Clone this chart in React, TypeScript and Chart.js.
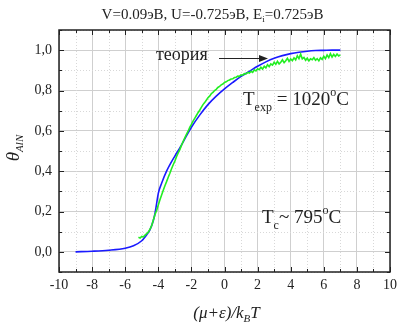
import React, { useEffect, useRef } from "react";
import { Chart, registerables } from "chart.js";

Chart.register(...registerables);

const titleText = "V=0.09эВ, U=-0.725эВ, E";
const xTickValues = [-10, -8, -6, -4, -2, 0, 2, 4, 6, 8, 10];
const yTickValues = [0, 0.2, 0.4, 0.6, 0.8, 1.0];

const theoryX = [-9, -8, -7, -6, -5.5, -5, -4.7, -4.5, -4.3, -4.2, -4.1, -4.0, -3.8, -3.5, -3.0, -2.7, -2.3, -2.0, -1.5, -1.0, -0.5, 0, 0.5, 1, 1.5, 2, 2.5, 3, 3.5, 4, 4.5, 5, 5.5, 6, 6.5, 7];
const theoryY = [0, 0.003, 0.008, 0.018, 0.03, 0.055, 0.085, 0.11, 0.155, 0.19, 0.24, 0.29, 0.34, 0.4, 0.475, 0.515, 0.575, 0.618, 0.678, 0.73, 0.772, 0.808, 0.84, 0.87, 0.895, 0.92, 0.942, 0.96, 0.973, 0.983, 0.99, 0.995, 0.998, 0.999, 1.0, 1.0];

const expX = [-5.2, -5.1, -5.0, -4.9, -4.8, -4.7, -4.6, -4.5, -4.4, -4.3, -4.2, -4.1, -4.0, -3.9, -3.8, -3.7, -3.6, -3.5, -3.4, -3.3, -3.2, -3.1, -3.0, -2.9, -2.8, -2.7, -2.6, -2.5, -2.4, -2.3, -2.2, -2.1, -2.0, -1.9, -1.8, -1.7, -1.6, -1.5, -1.4, -1.3, -1.2, -1.1, -1.0, -0.9, -0.8, -0.7, -0.6, -0.5, -0.4, -0.3, -0.2, -0.1, 0.0, 0.1, 0.2, 0.3, 0.4, 0.5, 0.6, 0.7, 0.8, 0.9, 1.0, 1.1, 1.2, 1.3, 1.4, 1.5, 1.6, 1.7, 1.8, 1.9, 2.0, 2.1, 2.2, 2.3, 2.4, 2.5, 2.6, 2.7, 2.8, 2.9, 3.0, 3.1, 3.2, 3.3, 3.4, 3.5, 3.6, 3.7, 3.8, 3.9, 4.0, 4.1, 4.2, 4.3, 4.4, 4.5, 4.6, 4.7, 4.8, 4.9, 5.0, 5.1, 5.2, 5.3, 5.4, 5.5, 5.6, 5.7, 5.8, 5.9, 6.0, 6.1, 6.2, 6.3, 6.4, 6.5, 6.6, 6.7, 6.8, 6.9, 7.0];
const expY = [0.072, 0.068, 0.076, 0.074, 0.083, 0.09, 0.098, 0.112, 0.13, 0.158, 0.185, 0.205, 0.232, 0.258, 0.282, 0.305, 0.328, 0.348, 0.37, 0.39, 0.412, 0.432, 0.45, 0.472, 0.49, 0.507, 0.528, 0.547, 0.565, 0.582, 0.598, 0.617, 0.632, 0.648, 0.662, 0.676, 0.69, 0.702, 0.716, 0.73, 0.74, 0.752, 0.764, 0.772, 0.784, 0.79, 0.8, 0.806, 0.815, 0.82, 0.828, 0.832, 0.84, 0.843, 0.849, 0.852, 0.857, 0.858, 0.864, 0.866, 0.871, 0.87, 0.878, 0.876, 0.884, 0.882, 0.89, 0.887, 0.895, 0.89, 0.902, 0.897, 0.908, 0.903, 0.915, 0.906, 0.92, 0.912, 0.928, 0.918, 0.932, 0.926, 0.94, 0.93, 0.945, 0.932, 0.94, 0.952, 0.938, 0.948, 0.96, 0.944, 0.956, 0.948, 0.962, 0.952, 0.972, 0.958, 0.98, 0.957, 0.964, 0.95, 0.96, 0.947, 0.957, 0.953, 0.963, 0.95, 0.958, 0.947, 0.962, 0.954, 0.97, 0.958, 0.976, 0.963, 0.983, 0.966, 0.979, 0.969, 0.981, 0.971, 0.977];

const SERIF = '"Liberation Serif", "Times New Roman", serif';

type Seg = { t: string; size: number; dy?: number; italic?: boolean };

function drawSegs(ctx: CanvasRenderingContext2D, segs: Seg[], x: number, y: number, align: "left" | "center") {
  const font = (s: Seg) => `${s.italic ? "italic " : ""}${s.size}px ${SERIF}`;
  let total = 0;
  for (const s of segs) {
    ctx.font = font(s);
    total += ctx.measureText(s.t).width;
  }
  let cx = align === "center" ? x - total / 2 : x;
  ctx.textAlign = "left";
  ctx.textBaseline = "alphabetic";
  for (const s of segs) {
    ctx.font = font(s);
    ctx.fillText(s.t, cx, y + (s.dy || 0));
    cx += ctx.measureText(s.t).width;
  }
}

const decorPlugin = {
  id: "decor",
  beforeDatasetsDraw(chart: any) {
    const { ctx, chartArea: a, scales } = chart;
    const xs = scales.x, ys = scales.y;
    ctx.save();
    ctx.strokeStyle = "#d8d8d8";
    ctx.lineWidth = 1;
    ctx.setLineDash([1, 2]);
    for (let v = -9; v <= 9; v += 2) {
      const px = Math.round(xs.getPixelForValue(v)) + 0.5;
      ctx.beginPath(); ctx.moveTo(px, a.top); ctx.lineTo(px, a.bottom); ctx.stroke();
    }
    for (const v of [-0.1, 0.1, 0.3, 0.5, 0.7, 0.9, 1.1]) {
      const py = Math.round(ys.getPixelForValue(v)) + 0.5;
      ctx.beginPath(); ctx.moveTo(a.left, py); ctx.lineTo(a.right, py); ctx.stroke();
    }
    ctx.restore();
  },
  afterDraw(chart: any) {
    const { ctx, chartArea: a, scales } = chart;
    const xs = scales.x, ys = scales.y;
    ctx.save();
    ctx.strokeStyle = "#222";
    ctx.lineWidth = 1;
    for (let v = -10; v <= 10; v += 1) {
      const px = Math.round(xs.getPixelForValue(v)) + 0.5;
      const len = v % 2 === 0 ? 5 : 3;
      ctx.beginPath();
      ctx.moveTo(px, a.bottom); ctx.lineTo(px, a.bottom - len);
      ctx.moveTo(px, a.top); ctx.lineTo(px, a.top + len);
      ctx.stroke();
    }
    for (let i = -1; i <= 11; i++) {
      const v = i / 10;
      const py = Math.round(ys.getPixelForValue(v)) + 0.5;
      const len = i % 2 === 0 ? 5 : 3;
      ctx.beginPath();
      ctx.moveTo(a.left, py); ctx.lineTo(a.left + len, py);
      ctx.moveTo(a.right, py); ctx.lineTo(a.right - len, py);
      ctx.stroke();
    }
    ctx.lineWidth = 1.5;
    ctx.strokeRect(a.left, a.top, a.right - a.left, a.bottom - a.top);

    ctx.fillStyle = "#222";
    ctx.font = `14px ${SERIF}`;
    ctx.textAlign = "center";
    ctx.textBaseline = "middle";
    for (const v of xTickValues) {
      ctx.fillText(String(v), xs.getPixelForValue(v), a.bottom + 13);
    }
    ctx.textAlign = "right";
    for (const v of yTickValues) {
      ctx.fillText(v.toFixed(1).replace(".", ","), a.left - 7, ys.getPixelForValue(v));
    }

    drawSegs(ctx, [
      { t: titleText, size: 15 },
      { t: "i", size: 9, dy: 3 },
      { t: "=0.725эВ", size: 15 },
    ], (a.left + a.right) / 2 - 12, 19, "center");

    drawSegs(ctx, [
      { t: "(μ+ε)/k", size: 17, italic: true },
      { t: "B", size: 11, dy: 4, italic: true },
      { t: "T", size: 17, italic: true },
    ], (a.left + a.right) / 2 + 2, 318, "center");

    ctx.save();
    ctx.translate(19, 148);
    ctx.rotate(-Math.PI / 2);
    drawSegs(ctx, [
      { t: "θ", size: 19, italic: true },
      { t: "AlN", size: 11, dy: 4, italic: true },
    ], 0, 0, "center");
    ctx.restore();

    drawSegs(ctx, [{ t: "теория", size: 18 }], 156, 60, "left");
    ctx.beginPath();
    ctx.moveTo(219, 58.5); ctx.lineTo(260, 58.5);
    ctx.lineWidth = 1.2;
    ctx.stroke();
    ctx.beginPath();
    ctx.moveTo(268, 58.5); ctx.lineTo(259, 55); ctx.lineTo(259, 62); ctx.closePath();
    ctx.fill();

    drawSegs(ctx, [
      { t: "T", size: 19 },
      { t: "exp", size: 12, dy: 6 },
      { t: " = 1020", size: 19 },
      { t: "o", size: 12, dy: -9 },
      { t: "C", size: 19 },
    ], 243, 105, "left");

    drawSegs(ctx, [
      { t: "T", size: 19 },
      { t: "c", size: 12, dy: 6 },
      { t: "~ 795", size: 19 },
      { t: "o", size: 12, dy: -9 },
      { t: "C", size: 19 },
    ], 262, 223, "left");
    ctx.restore();
  },
};

export default function App() {
  const ref = useRef<HTMLCanvasElement | null>(null);
  useEffect(() => {
    document.body.style.margin = "0";
    const canvas = ref.current!;
    const chart = new Chart(canvas, {
      type: "scatter",
      data: {
        datasets: [
          {
            label: "experiment",
            data: expX.map((x, i) => ({ x, y: expY[i] })),
            showLine: true,
            borderColor: "#22ee22",
            borderWidth: 1.6,
            pointRadius: 0,
            tension: 0,
          },
          {
            label: "theory",
            data: theoryX.map((x, i) => ({ x, y: theoryY[i] })),
            showLine: true,
            borderColor: "#1a1aff",
            borderWidth: 1.6,
            pointRadius: 0,
            cubicInterpolationMode: "monotone",
          },
        ],
      },
      options: {
        responsive: false,
        animation: false,
        layout: { padding: { left: 59, right: 8, top: 30, bottom: 55 } },
        plugins: { legend: { display: false }, tooltip: { enabled: false } },
        scales: {
          x: {
            type: "linear",
            min: -10,
            max: 10,
            afterBuildTicks: (s: any) => { s.ticks = xTickValues.map((v) => ({ value: v })); },
            ticks: { display: false },
            grid: { color: "#cfcfcf", lineWidth: 1, drawTicks: false },
            border: { display: false },
          },
          y: {
            type: "linear",
            min: -0.1,
            max: 1.1,
            afterBuildTicks: (s: any) => { s.ticks = yTickValues.map((v) => ({ value: v })); },
            ticks: { display: false },
            grid: { color: "#cfcfcf", lineWidth: 1, drawTicks: false },
            border: { display: false },
          },
        },
      } as any,
      plugins: [decorPlugin],
    });
    return () => chart.destroy();
  }, []);
  return <canvas ref={ref} width={398} height={327} style={{ display: "block" }} />;
}
